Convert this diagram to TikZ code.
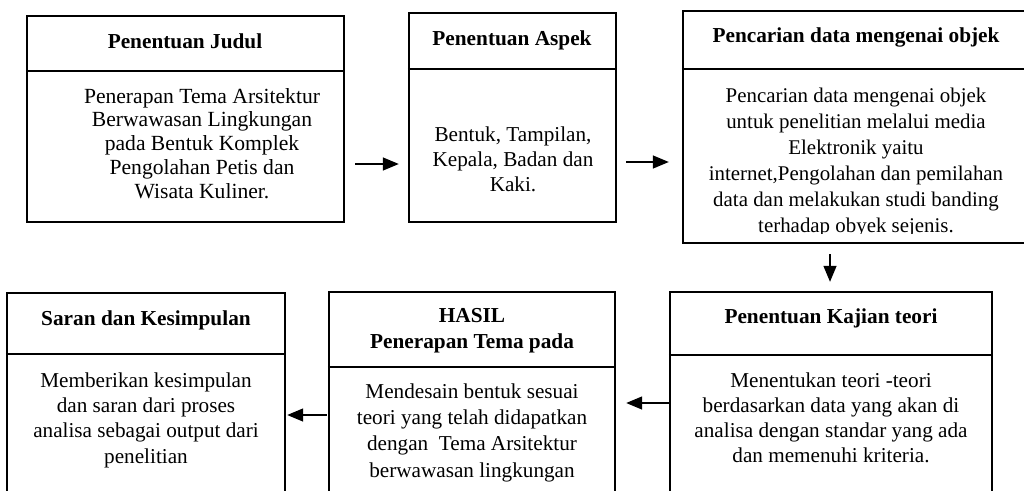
\documentclass[tikz,border=0pt]{standalone}
\usepackage{fontspec}
\setmainfont{Liberation Serif}
\usetikzlibrary{arrows.meta,calc}
\tikzset{
  frame/.style={draw=black, line width=2.4pt},
  boxn/.style={frame, rectangle, inner sep=0pt, fill=none},
  divider/.style={draw=black, line width=2.4pt},
  arr/.style={draw=black, line width=1.4pt, -{Triangle[length=16pt,width=13pt]}},
  body/.style={anchor=north, align=center, inner sep=0pt, font=\fontsize{21.2}{25}\selectfont},
  head/.style={anchor=north, align=center, inner sep=0pt, font=\fontsize{21.3}{26}\selectfont\bfseries},
}
\newcommand{\fs}{\rule{0pt}{15pt}}
\begin{document}
\begin{tikzpicture}[x=1pt,y=-1pt]
\useasboundingbox (0,0) rectangle (1024,490);
\clip (0,0) rectangle (1024,490);
\fill[white] (0,0) rectangle (1024,490);

% boxes
\node[boxn, minimum width=317pt, minimum height=206pt] (b1) at (185.5,119) {};
\node[boxn, minimum width=207pt, minimum height=209pt] (b2) at (512.5,117.5) {};
\node[boxn, minimum width=343pt, minimum height=232pt] (b3) at (854.5,127) {};
\node[boxn, minimum width=278pt, minimum height=217pt] (saran) at (146,401.5) {};
\node[boxn, minimum width=286pt, minimum height=218pt] (hasil) at (472,401) {};
\node[boxn, minimum width=322pt, minimum height=218pt] (kaj) at (831,401) {};

% dividers
\draw[divider] ($(b1.north west)+(0,56)$) -- ($(b1.north east)+(0,56)$);
\draw[divider] ($(b2.north west)+(0,57)$) -- ($(b2.north east)+(0,57)$);
\draw[divider] ($(b3.north west)+(0,59)$) -- ($(b3.north east)+(0,59)$);
\draw[divider] ($(saran.north west)+(0,62)$) -- ($(saran.north east)+(0,62)$);
\draw[divider] ($(hasil.north west)+(0,76)$) -- ($(hasil.north east)+(0,76)$);
\draw[divider] ($(kaj.north west)+(0,64)$) -- ($(kaj.north east)+(0,64)$);

% headers
\node[head] (h1) at (185,33) {\fs Penentuan Judul};
\node[head] (h2) at (512,30) {\fs Penentuan Aspek};
\node[head] (h3) at (856,27) {\fs Pencarian data mengenai objek};
\node[head] (h4) at (146,310) {\fs Saran dan Kesimpulan};
\node[head] (h5) at (472,307) {\fs HASIL\\Penerapan Tema pada};
\node[head] (h6) at (831,308) {\fs Penentuan Kajian teori};

% bodies
\node[body, font=\fontsize{21.6}{23.75}\selectfont] (t1) at (202,88)
  {\fs Penerapan Tema Arsitektur\\Berwawasan Lingkungan\\pada Bentuk Komplek\\Pengolahan Petis dan\\Wisata Kuliner.};
\node[body] (t2) at (513,126)
  {\fs Bentuk, Tampilan,\\Kepala, Badan dan\\Kaki.};
\begin{scope}
\clip (683,0) rectangle (1026,233);
\node[body, font=\fontsize{20.9}{26}\selectfont] (t3) at (856,87)
  {\fs Pencarian data mengenai objek\\untuk penelitian melalui media\\Elektronik yaitu\\internet,Pengolahan dan pemilahan\\data dan melakukan studi banding\\terhadap obyek sejenis.};
\end{scope}
\node[body, font=\fontsize{21.2}{25.3}\selectfont] (t4) at (146,372)
  {\fs Memberikan kesimpulan\\dan saran dari proses\\analisa sebagai output dari\\penelitian};
\node[body, font=\fontsize{21.2}{26.3}\selectfont] (t5) at (472,383)
  {\fs Mendesain bentuk sesuai\\teori yang telah didapatkan\\dengan\ \ Tema Arsitektur\\berwawasan lingkungan};
\node[body] (t6) at (831,372)
  {\fs Menentukan teori -teori\\berdasarkan data yang akan di\\analisa dengan standar yang ada\\dan memenuhi kriteria.};

% connectors
\draw[arr] ($(b1.east)+(10,45)$) -- ($(b2.west)+(-9,46.5)$);
\draw[arr] ($(b2.east)+(9,44.5)$) -- ($(b3.west)+(-13,35)$);
\draw[arr] ($(b3.south)+(-24.5,10)$) -- ($(kaj.north)+(-1,-9)$);
\draw[arr] ($(kaj.west)+(0,2)$) -- ($(hasil.east)+(10,2)$);
\draw[arr] ($(hasil.west)+(-1,14)$) -- ($(saran.east)+(1,13.5)$);
\end{tikzpicture}
\end{document}
